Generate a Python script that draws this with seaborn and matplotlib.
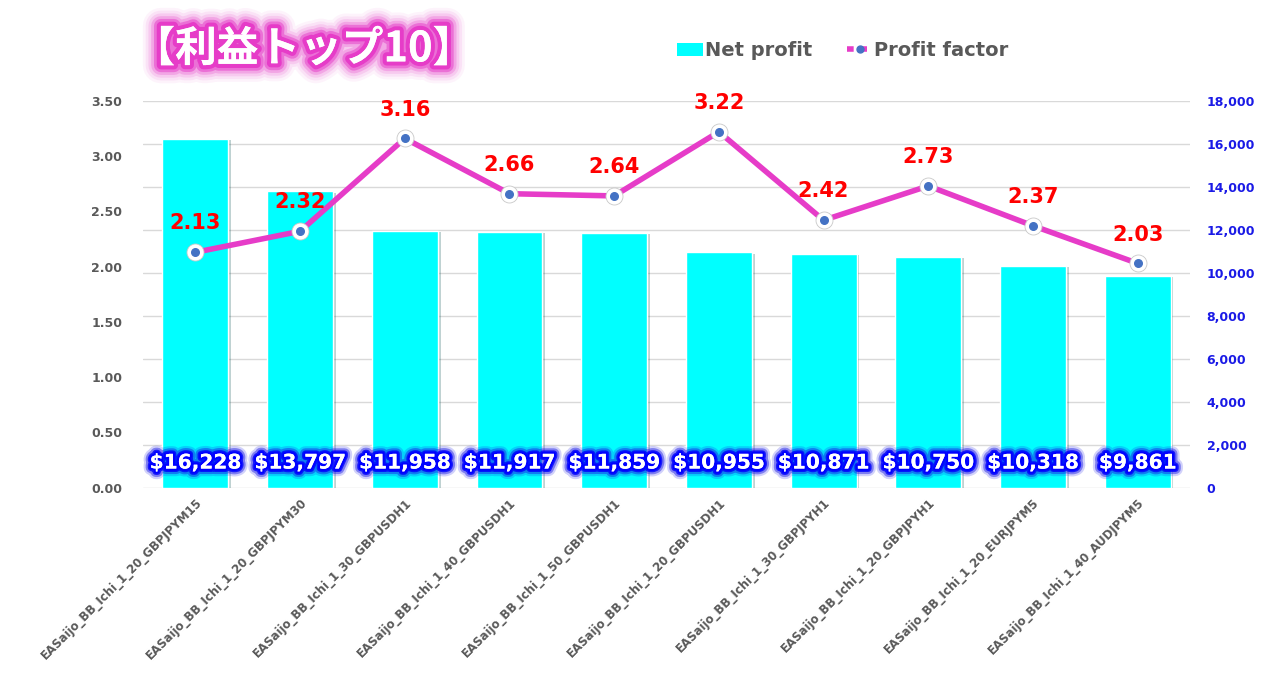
import numpy as np
import pandas as pd
import matplotlib
matplotlib.use("Agg")
import matplotlib.pyplot as plt
import matplotlib.patheffects as pe
from matplotlib.lines import Line2D
from matplotlib.patches import Patch
import seaborn as sns

# データ
names = [
    "EASaijo_BB_Ichi_1_20_GBPJPYM15",
    "EASaijo_BB_Ichi_1_20_GBPJPYM30",
    "EASaijo_BB_Ichi_1_30_GBPUSDH1",
    "EASaijo_BB_Ichi_1_40_GBPUSDH1",
    "EASaijo_BB_Ichi_1_50_GBPUSDH1",
    "EASaijo_BB_Ichi_1_20_GBPUSDH1",
    "EASaijo_BB_Ichi_1_30_GBPJPYH1",
    "EASaijo_BB_Ichi_1_20_GBPJPYH1",
    "EASaijo_BB_Ichi_1_20_EURJPYM5",
    "EASaijo_BB_Ichi_1_40_AUDJPYM5",
]
net_profit = [16228, 13797, 11958, 11917, 11859, 10955, 10871, 10750, 10318, 9861]
profit_factor = [2.13, 2.32, 3.16, 2.66, 2.64, 3.22, 2.42, 2.73, 2.37, 2.03]

CYAN = "#00FFFF"
MAGENTA = "#E63CC8"
DOT = "#4472C4"
GRAY = "#595959"
BLUE = "#1A1AE6"

sns.set_theme(style="white")
plt.rcParams["font.family"] = ["DejaVu Sans", "Noto Sans CJK JP"]

df = pd.DataFrame({"name": names, "net": net_profit, "pf": profit_factor})

fig = plt.figure(figsize=(12.83, 6.86), dpi=100)
ax = fig.add_axes([0.1115, 0.289, 0.816, 0.564])
ax2 = ax.twinx()

# 棒グラフ（右側の目盛り）
sns.barplot(data=df, x="name", y="net", color=CYAN, width=0.63, ax=ax,
            saturation=1, zorder=2)
for p in ax.patches:
    p.set_path_effects([pe.SimplePatchShadow(offset=(2, -1), alpha=0.25), pe.Normal()])
ax.set_ylim(0, 18000)
ax.set_xlim(-0.5, 9.5)
ax.set_yticks(np.arange(0, 18001, 2000))
ax.yaxis.set_major_formatter(matplotlib.ticker.FuncFormatter(lambda v, _: f"{int(v):,}"))
ax.grid(axis="y", color="#D9D9D9", lw=1, zorder=0)
ax.set_axisbelow(True)
ax.set_xlabel("")
ax.set_ylabel("")
for s in ax.spines.values():
    s.set_visible(False)
ax.set_xticks(range(len(names)))
ax.set_xticklabels(names, rotation=45, ha="right", rotation_mode="anchor",
                   fontsize=8.5, fontweight="bold", color=GRAY)
ax.tick_params(axis="x", length=0, pad=6)

# 金額ラベル
glow_blue = [pe.withStroke(linewidth=11, foreground=BLUE, alpha=0.2),
             pe.withStroke(linewidth=8, foreground=BLUE, alpha=0.45),
             pe.withStroke(linewidth=5, foreground="#0000FF", alpha=0.8),
             pe.withStroke(linewidth=3, foreground="#0000FF"), pe.Normal()]
for i, v in enumerate(net_profit):
    ax.text(i, 1150, f"${v:,}", ha="center", va="center", color="white",
            fontsize=14.5, fontweight="bold", path_effects=glow_blue, zorder=5)

# 折れ線（左側の目盛り）
x = np.arange(len(names))
sns.lineplot(x=x, y=profit_factor, color=MAGENTA, lw=4, ax=ax2, zorder=3)
ax2.scatter(x, profit_factor, s=150, color="white", edgecolor="#C8C8C8",
            linewidth=0.6, zorder=4)
ax2.scatter(x, profit_factor, s=30, color=DOT, zorder=5)
ax2.set_ylim(0, 3.5)
ax2.set_xlim(-0.5, 9.5)
ax2.set_yticks(np.arange(0, 3.51, 0.5))
ax2.set_yticklabels([f"{v:.2f}" for v in np.arange(0, 3.51, 0.5)])
for s in ax2.spines.values():
    s.set_visible(False)
ax2.grid(False)

for i, v in enumerate(profit_factor):
    ax2.text(i, v + 0.17, f"{v:.2f}", ha="center", va="bottom", color="#FF0000",
             fontsize=15, fontweight="bold", zorder=6)

# 目盛りの左右を入れ替え
ax.yaxis.tick_right()
ax.tick_params(axis="y", colors=BLUE, labelsize=9, length=0, pad=12,
               left=False, labelleft=False, right=False, labelright=True)
ax2.yaxis.tick_left()
ax2.tick_params(axis="y", colors=GRAY, labelsize=9, length=0, pad=15,
                right=False, labelright=False, left=False, labelleft=True)
for t in ax.get_yticklabels() + ax2.get_yticklabels():
    t.set_fontweight("bold")

# タイトル（ぼかし風のグロー）
glow_pink = [pe.withStroke(linewidth=w, foreground=MAGENTA, alpha=a)
             for w, a in [(26, 0.06), (22, 0.09), (18, 0.14), (14, 0.25), (10, 0.5)]]
glow_pink += [pe.withStroke(linewidth=6, foreground=MAGENTA), pe.Normal()]
fig.text(0.104, 0.928, "【利益トップ10】", ha="left", va="center", color="white",
         fontsize=30, fontweight="bold", family=["Noto Sans CJK JP"],
         path_effects=glow_pink)

# 凡例
handles = [Patch(facecolor=CYAN, edgecolor="none"),
           Line2D([0], [0], color=MAGENTA, lw=4, ls=(0, (1.2, 1.2)), marker="o",
                  markersize=5, markerfacecolor=DOT, markeredgecolor=DOT)]
leg = fig.legend(handles, ["Net profit", "Profit factor"], loc="center",
                 bbox_to_anchor=(0.657, 0.926), ncol=2, frameon=False,
                 prop={"size": 14, "weight": "bold"}, handlelength=1.3,
                 handletextpad=0.1, columnspacing=1.8)
for t in leg.get_texts():
    t.set_color(GRAY)

fig.savefig("out.png", dpi=100, facecolor="white")
